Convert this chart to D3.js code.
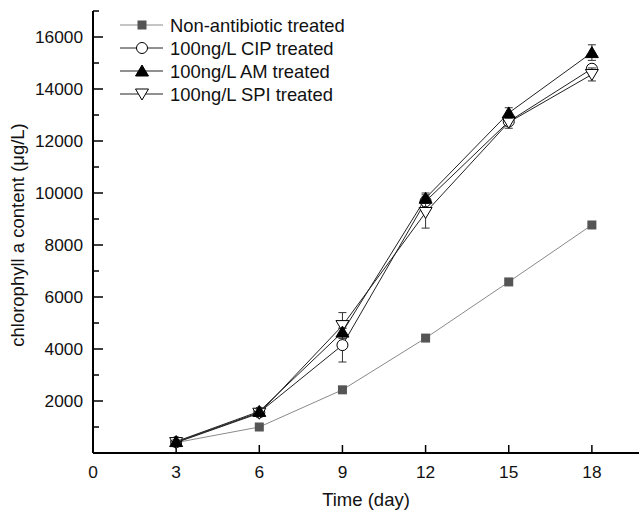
<!DOCTYPE html>
<html>
<head>
<meta charset="utf-8">
<script src="https://cdn.jsdelivr.net/npm/d3@7"></script>
<style>
  body { margin: 0; background: #fff; }
  text { font-family: "Liberation Sans", Arial, sans-serif; fill: #111; }
</style>
</head>
<body>
<svg width="639" height="511"></svg>
<script>
var width = 639;
var height = 511;

// data
var days = [3, 6, 9, 12, 15, 18];
var seriesNames = ['Non-antibiotic treated', '100ng/L CIP treated', '100ng/L AM treated', '100ng/L SPI treated'];
var nonValues = [400, 1000, 2430, 4420, 6580, 8770];
var nonErr = [30, 40, 60, 60, 60, 60];
var cipValues = [420, 1560, 4150, 9680, 12750, 14780];
var cipErr = [60, 80, 650, 250, 150, 150];
var amValues = [440, 1600, 4650, 9800, 13080, 15400];
var amErr = [60, 100, 150, 200, 200, 300];
var spiValues = [400, 1530, 4900, 9250, 12720, 14560];
var spiErr = [60, 100, 500, 600, 230, 250];
var xTicks = [0, 3, 6, 9, 12, 15, 18];
var yTicks = [2000, 4000, 6000, 8000, 10000, 12000, 14000, 16000];

var series = [
  {name: seriesNames[0], values: nonValues, err: nonErr, shape: 'square', line: '#8a8a8a', fill: '#555'},
  {name: seriesNames[1], values: cipValues, err: cipErr, shape: 'circle', line: '#222', fill: '#fff'},
  {name: seriesNames[3], values: spiValues, err: spiErr, shape: 'tridown', line: '#222', fill: '#fff'},
  {name: seriesNames[2], values: amValues, err: amErr, shape: 'triup', line: '#222', fill: '#000'}
];

var x = d3.scaleLinear().domain([0, 19.7]).range([93, 639]);
var y = d3.scaleLinear().domain([0, 17000]).range([453, 11]);

var svg = d3.select('svg');

// axes
var yMinor = d3.range(1000, 17001, 1000);
svg.append('line')
    .attr('x1', x(0)).attr('x2', x(0))
    .attr('y1', y(17000)).attr('y2', y(0))
    .attr('stroke', '#000').attr('stroke-width', 2);
svg.append('line')
    .attr('x1', x(0)).attr('x2', 639)
    .attr('y1', y(0)).attr('y2', y(0))
    .attr('stroke', '#000').attr('stroke-width', 2);

svg.selectAll('.ytick')
    .data(yMinor)
    .enter()
    .append('line')
        .attr('x1', x(0))
        .attr('x2', d => x(0) + (d % 2000 === 0 ? 10 : 6))
        .attr('y1', d => y(d)).attr('y2', d => y(d))
        .attr('stroke', '#000').attr('stroke-width', 1.5);

svg.selectAll('.ylab')
    .data(yTicks)
    .enter()
    .append('text')
        .attr('x', 83)
        .attr('y', d => y(d) + 6)
        .attr('text-anchor', 'end')
        .style('font-size', '17.3px')
        .text(d => d);

svg.selectAll('.xtick')
    .data(xTicks.slice(1))
    .enter()
    .append('line')
        .attr('x1', d => x(d)).attr('x2', d => x(d))
        .attr('y1', y(0)).attr('y2', y(0) - 8)
        .attr('stroke', '#000').attr('stroke-width', 1.5);

svg.selectAll('.xlab')
    .data(xTicks)
    .enter()
    .append('text')
        .attr('x', d => x(d))
        .attr('y', 478)
        .attr('text-anchor', 'middle')
        .style('font-size', '17.3px')
        .text(d => d);

svg.append('text')
    .attr('x', 366)
    .attr('y', 506)
    .attr('text-anchor', 'middle')
    .style('font-size', '18.5px')
    .text('Time (day)');

svg.append('text')
    .attr('transform', 'translate(24, 235) rotate(-90)')
    .attr('text-anchor', 'middle')
    .style('font-size', '18.5px')
    .text('chlorophyll a content (\u03bcg/L)');

function drawMarker(g, shape, fill, cx, cy) {
  if (shape === 'square') {
    g.append('rect').attr('x', cx - 4.5).attr('y', cy - 4.5).attr('width', 9).attr('height', 9)
      .attr('fill', fill);
  } else if (shape === 'circle') {
    g.append('circle').attr('cx', cx).attr('cy', cy).attr('r', 5.5)
      .attr('fill', fill).attr('stroke', '#000').attr('stroke-width', 1);
  } else if (shape === 'triup') {
    g.append('path').attr('d', `M${cx},${cy - 6}L${cx + 6.5},${cy + 5}L${cx - 6.5},${cy + 5}Z`)
      .attr('fill', fill).attr('stroke', '#000').attr('stroke-width', 1);
  } else {
    g.append('path').attr('d', `M${cx},${cy + 6}L${cx + 6.5},${cy - 5}L${cx - 6.5},${cy - 5}Z`)
      .attr('fill', fill).attr('stroke', '#000').attr('stroke-width', 1);
  }
}

var line = d3.line()
    .x((d, i) => x(days[i]))
    .y(d => y(d));

series.forEach(s => {
  var g = svg.append('g');
  g.append('path')
      .attr('d', line(s.values))
      .attr('fill', 'none')
      .attr('stroke', s.line)
      .attr('stroke-width', 1);
  s.values.forEach((v, i) => {
    var cx = x(days[i]);
    var top = y(v + s.err[i]);
    var bot = y(v - s.err[i]);
    g.append('line').attr('x1', cx).attr('x2', cx).attr('y1', top).attr('y2', bot)
      .attr('stroke', '#333').attr('stroke-width', 1);
    [top, bot].forEach(yy => {
      g.append('line').attr('x1', cx - 4).attr('x2', cx + 4).attr('y1', yy).attr('y2', yy)
        .attr('stroke', '#333').attr('stroke-width', 1);
    });
    drawMarker(g, s.shape, s.fill, cx, y(v));
  });
});

// legend, in the order of seriesNames
var legend = svg.append('g');
seriesNames.forEach((name, k) => {
  var s = series.find(d => d.name === name);
  var ly = 25 + k * 23;
  legend.append('line')
      .attr('x1', 120).attr('x2', 163)
      .attr('y1', ly).attr('y2', ly)
      .attr('stroke', s.line).attr('stroke-width', 1);
  drawMarker(legend, s.shape, s.fill, 142, ly);
  legend.append('text')
      .attr('x', 170)
      .attr('y', ly + 6.5)
      .style('font-size', '18.4px')
      .text(s.name);
});
</script>
</body>
</html>
